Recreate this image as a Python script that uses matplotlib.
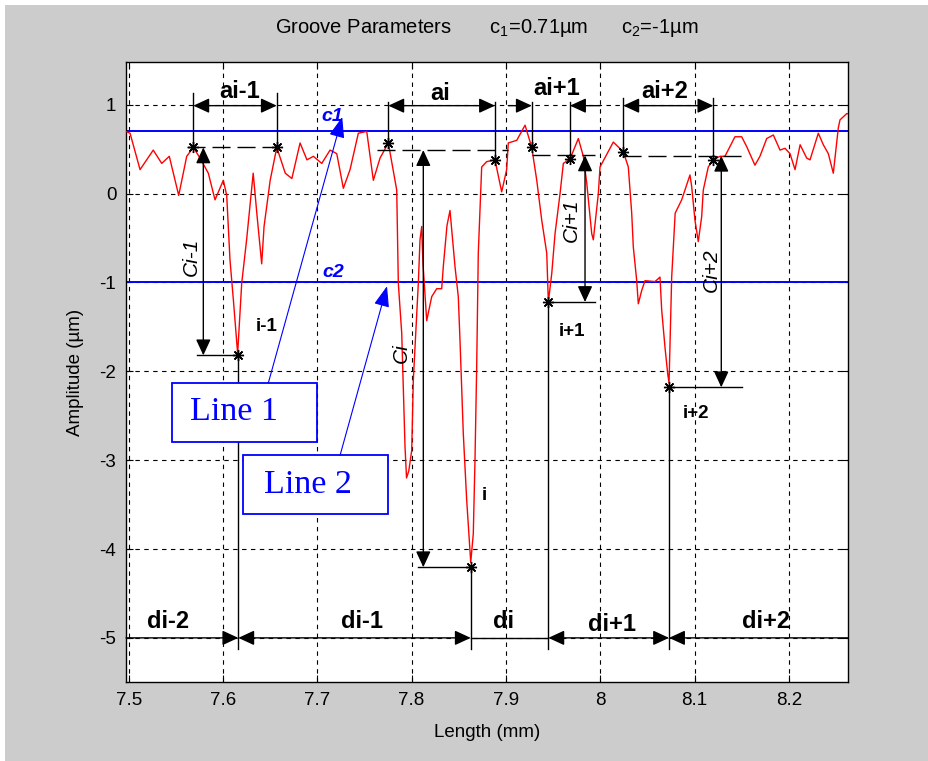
import matplotlib
matplotlib.use('Agg')
import matplotlib.pyplot as plt
from matplotlib.patches import Rectangle

plt.rcParams['font.family'] = ['Liberation Sans', 'DejaVu Sans']
plt.rcParams['mathtext.fontset'] = 'custom'
plt.rcParams['mathtext.rm'] = 'Liberation Sans'
plt.rcParams['mathtext.it'] = 'Liberation Sans:italic'
plt.rcParams['mathtext.bf'] = 'Liberation Sans:bold'
plt.rcParams['axes.unicode_minus'] = False

# ---------------- data ----------------
prof_x = [7.497, 7.5014, 7.512, 7.526, 7.535, 7.543, 7.553, 7.5615, 7.5685, 7.5756,
          7.5844, 7.5915, 7.6003, 7.6039, 7.6074, 7.611, 7.6155, 7.6198, 7.625, 7.632,
          7.636, 7.641, 7.6435, 7.65, 7.657, 7.666, 7.673, 7.6817, 7.689, 7.6958,
          7.7047, 7.7135, 7.7206, 7.7276, 7.7347, 7.7435, 7.7524, 7.7594, 7.7665, 7.7753,
          7.7842, 7.7859, 7.7895, 7.7912, 7.793, 7.7946, 7.797, 7.8001, 7.8018, 7.8071,
          7.8089, 7.8107, 7.812, 7.816, 7.8213, 7.8266, 7.8319, 7.8336, 7.8375, 7.8407,
          7.846, 7.8495, 7.8513, 7.8531, 7.8548, 7.8584, 7.8612, 7.8627, 7.8654, 7.8672,
          7.869, 7.8707, 7.8743, 7.8796, 7.8884, 7.8955, 7.9008, 7.9025, 7.9115, 7.9203,
          7.9274, 7.9327, 7.938, 7.9433, 7.945, 7.9486, 7.9521, 7.9574, 7.9609, 7.968,
          7.9768, 7.9821, 7.9857, 7.991, 7.9927, 7.998, 7.9998, 8.0139, 8.0245, 8.0298,
          8.0334, 8.0351, 8.0387, 8.0404, 8.044, 8.0475, 8.0581, 8.0634, 8.0652, 8.0687,
          8.0716, 8.073, 8.0758, 8.0795, 8.0864, 8.0952, 8.097, 8.1005, 8.104, 8.1076,
          8.1093, 8.1146, 8.12, 8.127, 8.1323, 8.1429, 8.15, 8.1553, 8.1641, 8.1694,
          8.1766, 8.1836, 8.1907, 8.196, 8.2013, 8.2066, 8.212, 8.219, 8.2225, 8.2313,
          8.2366, 8.2419, 8.2472, 8.2525, 8.2543, 8.2614, 8.2635]
prof_y = [0.70, 0.68, 0.27, 0.49, 0.34, 0.42, -0.02, 0.42, 0.52, 0.40,
          0.23, -0.07, 0.15, -0.02, -0.75, -1.20, -1.80, -1.01, -0.52, 0.23,
          -0.24, -0.79, -0.37, 0.15, 0.52, 0.23, 0.17, 0.57, 0.38, 0.42,
          0.34, 0.49, 0.45, 0.06, 0.27, 0.68, 0.70, 0.15, 0.40, 0.57,
          0.04, -1.01, -1.57, -2.21, -2.85, -3.20, -3.12, -2.89, -2.10, -1.01,
          -0.52, -0.37, -0.78, -1.43, -1.16, -1.07, -1.07, -0.82, -0.36, -0.19,
          -0.82, -1.16, -1.65, -2.18, -2.70, -3.45, -3.90, -4.15, -3.83, -3.00,
          -1.95, -0.67, 0.30, 0.36, 0.38, 0.02, 0.27, 0.57, 0.60, 0.77,
          0.52, 0.15, -0.30, -0.67, -1.22, -0.90, -0.45, 0.00, 0.34, 0.39,
          0.62, 0.42, 0.12, -0.45, -0.52, 0.00, 0.30, 0.58, 0.47, 0.30,
          -0.22, -0.60, -0.98, -1.24, -1.09, -0.98, -0.99, -0.94, -1.31, -1.73,
          -2.03, -2.13, -0.94, -0.22, -0.07, 0.21, 0.08, -0.30, -0.54, -0.26,
          0.04, 0.30, 0.38, 0.42, 0.42, 0.64, 0.64, 0.53, 0.32, 0.42,
          0.62, 0.66, 0.49, 0.51, 0.45, 0.27, 0.55, 0.40, 0.38, 0.68,
          0.55, 0.45, 0.23, 0.74, 0.83, 0.90, 0.90]

c1 = 0.71
c2 = -1.0

# peak points (asterisks at groove edges)
peak_x = [7.5685, 7.657, 7.7753, 7.8884, 7.9274, 7.968, 8.0245, 8.12]
peak_y = [0.52, 0.52, 0.566, 0.377, 0.52, 0.385, 0.47, 0.377]
# groove minima
min_x = [7.6162, 7.8627, 7.945, 8.073]
min_y = [-1.82, -4.205, -1.22, -2.18]
min_labels = ['i-1', 'i', 'i+1', 'i+2']
# reference level for each groove depth (dashed lines)
ref_y = [0.52, 0.49, 0.43, 0.426]

xticks = [7.5, 7.6, 7.7, 7.8, 7.9, 8.0, 8.1, 8.2]
xtick_labels = ['7.5', '7.6', '7.7', '7.8', '7.9', '8', '8.1', '8.2']
yticks = [-5, -4, -3, -2, -1, 0, 1]
ytick_labels = ['-5', '-4', '-3', '-2', '-1', '0', '1']

# ---------------- figure ----------------
W, H = 929, 761
fig = plt.figure(figsize=(W / 100, H / 100), dpi=100, facecolor='white')
fig.patches.append(Rectangle((5 / W, 0), 1, 1 - 5 / H, transform=fig.transFigure,
                             facecolor='#cccccc', edgecolor='none', zorder=-10))
ax = fig.add_axes([126 / W, 1 - 682.3 / H, (848.3 - 126) / W, (682.3 - 62.3) / H])
ax.set_facecolor('white')
ax.set_xlim(7.4971, 8.2631)
ax.set_ylim(-5.5, 1.478)

ax.set_xticks(xticks)
ax.set_xticklabels(xtick_labels)
ax.set_yticks(yticks)
ax.set_yticklabels(ytick_labels)
ax.tick_params(direction='in', length=5, width=0.8, top=True, right=True,
               labelsize=13.5, pad=7)
ax.grid(True, color='k', linestyle=(0, (4, 4)), linewidth=0.8)
for s in ax.spines.values():
    s.set_linewidth(1.0)

ax.set_title('Groove Parameters       c$_1$=0.71\u00b5m      c$_2$=-1\u00b5m',
             fontsize=14.5, pad=21)
ax.set_xlabel('Length (mm)', fontsize=13.5, labelpad=11)
ax.set_ylabel('Amplitude (\u00b5m)', fontsize=13.5, labelpad=11)

# profile
ax.plot(prof_x, prof_y, color='#ff0000', lw=1.0, zorder=3)
# threshold lines
ax.axhline(c1, color='#0000ff', lw=1.4, zorder=2)
ax.axhline(c2, color='#0000ff', lw=1.4, zorder=2)
ax.text(7.7161, 0.865, 'c1', color='#0000ff', fontsize=14, fontweight='bold',
        style='italic', ha='center', va='center')
ax.text(7.717, -0.89, 'c2', color='#0000ff', fontsize=14, fontweight='bold',
        style='italic', ha='center', va='center')

K = dict(color='k', lw=1.0, zorder=4)
ahead = '-|>,head_length=0.65,head_width=0.3'
dhead = '<|-|>,head_length=0.65,head_width=0.3'


def arrow(x0, y0, x1, y1, style):
    ax.annotate('', xy=(x1, y1), xytext=(x0, y0),
                arrowprops=dict(arrowstyle=style, color='k', lw=1.0,
                                mutation_scale=15, shrinkA=0, shrinkB=0),
                zorder=5)


# asterisks
ax.plot(peak_x, peak_y, linestyle='none', marker=(8, 2, 0), ms=8, mec='k', mew=1.0, zorder=6)
ax.plot(min_x, min_y, linestyle='none', marker=(8, 2, 0), ms=8, mec='k', mew=1.0, zorder=6)

# dashed reference levels
dash = (0, (13, 5))
ax.plot([7.5615, 7.658], [ref_y[0]] * 2, linestyle=dash, **K)
ax.plot([7.763, 7.9025], [ref_y[1]] * 2, linestyle=dash, **K)
ax.plot([7.9274, 7.9945], [ref_y[2]] * 2, linestyle=dash, **K)
ax.plot([8.0245, 8.157], [ref_y[3]] * 2, linestyle=dash, **K)

# ---- a dimensions (top) ----
ya = 0.99
ext_top = [1.129, 1.129, 1.034, 1.034, 1.034, 1.034, 1.073, 1.073]
for xp, yp, yt in zip(peak_x, peak_y, ext_top):
    ax.plot([xp, xp], [yp, yt], **K)
arrow(peak_x[0], ya, peak_x[1], ya, dhead)
arrow(peak_x[2], ya, peak_x[3], ya, dhead)
arrow(7.9025, ya, peak_x[4], ya, ahead)
arrow(8.0, ya, peak_x[5], ya, ahead)
arrow(peak_x[6], ya, peak_x[7], ya, dhead)
lab = dict(fontsize=17, fontweight='bold', ha='center', va='center', zorder=7)
ax.text(7.6181, 1.15, 'ai-1', **lab)
ax.text(7.8301, 1.13, 'ai', **lab)
ax.text(7.9539, 1.185, 'ai+1', **lab)
ax.text(8.0687, 1.15, 'ai+2', **lab)

# ---- C depths (vertical) ----
ci_x = [7.5791, 7.8124, 7.9839, 8.1284]
ci_left = [7.5721, 7.8071, 7.945, 8.0722]
ci_right = [7.6162, 7.8627, 7.9945, 8.15]
for cx, yt, yb, xl, xr in zip(ci_x, ref_y, min_y, ci_left, ci_right):
    arrow(cx, yt, cx, yb, dhead)
    ax.plot([xl, xr], [yb, yb], **K)
ctext = dict(fontsize=15, style='italic', rotation=90, ha='center', va='center', zorder=7)
ax.text(7.5668, -0.71, 'Ci-1', **ctext)
ax.text(7.7895, -1.80, 'Ci', **ctext)
ax.text(7.9698, -0.30, 'Ci+1', **ctext)
ax.text(8.1182, -0.86, 'Ci+2', **ctext)

# minima labels
ilab = dict(fontsize=13.5, fontweight='bold', ha='center', va='center', zorder=7)
ax.text(7.6464, -1.50, 'i-1', **ilab)
ax.text(7.8768, -3.40, 'i', **ilab)
ax.text(7.9698, -1.557, 'i+1', **ilab)
ax.text(8.1011, -2.473, 'i+2', **ilab)

# ---- d spacings (bottom) ----
yd = -5.0
for mx, my in zip(min_x, min_y):
    ax.plot([mx, mx], [my, -5.12], **K)
arrow(7.4971, yd, min_x[0], yd, ahead)
arrow(min_x[0], yd, min_x[1], yd, dhead)
ax.plot([min_x[1], min_x[2]], [yd, yd], **K)
arrow(min_x[2], yd, min_x[3], yd, dhead)
arrow(8.2631, yd, min_x[3], yd, ahead)
ax.text(7.5419, -4.82, 'di-2', **lab)
ax.text(7.7476, -4.82, 'di-1', **lab)
ax.text(7.897, -4.82, 'di', **lab)
ax.text(8.0125, -4.85, 'di+1', **lab)
ax.text(8.176, -4.82, 'di+2', **lab)

# ---- Line 1 / Line 2 callouts ----
blue = '#0000ff'
ax.add_patch(Rectangle((7.5456, -2.797), 7.6994 - 7.5456, 2.797 - 2.132,
                       facecolor='white', edgecolor=blue, lw=1.3, zorder=8))
ax.add_patch(Rectangle((7.6212, -3.611), 7.775 - 7.6212, 3.611 - 2.946,
                       facecolor='white', edgecolor=blue, lw=1.3, zorder=8))
ttext = dict(fontsize=24.5, color=blue, family='Liberation Serif', ha='center',
             va='center', zorder=9)
ax.text(7.612, -2.45, 'Line 1', **ttext)
ax.text(7.6896, -3.28, 'Line 2', **ttext)
bstyle = '-|>,head_length=0.8,head_width=0.3'
ax.annotate('', xy=(7.7264, 0.862), xytext=(7.648, -2.132),
            arrowprops=dict(arrowstyle=bstyle, color=blue, lw=0.8,
                            mutation_scale=16, shrinkA=0, shrinkB=0), zorder=9)
ax.annotate('', xy=(7.7739, -1.042), xytext=(7.7241, -2.946),
            arrowprops=dict(arrowstyle=bstyle, color=blue, lw=0.8,
                            mutation_scale=16, shrinkA=0, shrinkB=0), zorder=9)

fig.savefig('out.png', dpi=100, facecolor=fig.get_facecolor())
